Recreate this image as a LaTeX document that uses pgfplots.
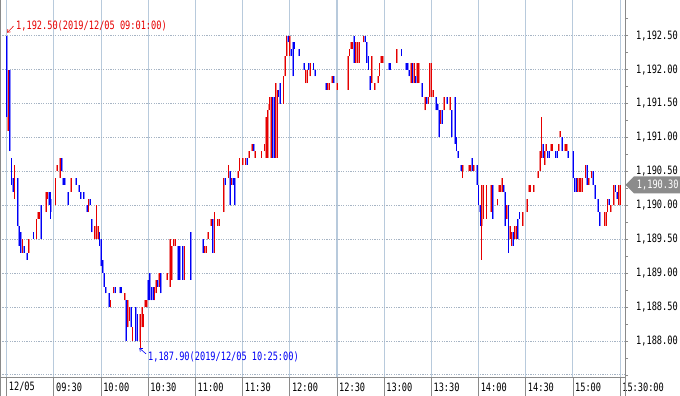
\documentclass[border=0pt]{standalone}
\usepackage{pgfplots}
\pgfplotsset{compat=1.18}
\usepackage{pgfplotstable}
\usepackage{fontspec}
\setmainfont{Liberation Sans}
\newfontfamily\gul[FakeStretch=0.75]{DejaVu Sans Mono}
\newcommand\gf{\gul\fontsize{11.5bp}{13bp}\selectfont}
\usetikzlibrary{shapes.symbols,arrows.meta}
\definecolor{dred}{HTML}{E60000}
\definecolor{lred}{HTML}{F08888}
\definecolor{dblue}{HTML}{0000F5}
\definecolor{lblue}{HTML}{8888FF}
\definecolor{gridblue}{HTML}{B8CADC}
\definecolor{axgray}{HTML}{8A8A8A}
\definecolor{dotgray}{HTML}{A6B4C4}
\definecolor{tagray}{HTML}{8C8C8C}
% vertical stroke mark, length given per point by \rng (price units), 67.84bp per unit
\pgfdeclareplotmark{vbar}{%
  \pgfpathmoveto{\pgfqpoint{0pt}{0pt}}%
  \pgfpathlineto{\pgfpoint{0pt}{\rng*67.84bp}}%
  \pgfusepathqstroke}

% up (red) candles: minute, open, high, low, close
\pgfplotstableread{
m o h l c
1 1191.1 1192.0 1191.1 1192.0
5 1190.1 1190.6 1190.1 1190.6
10 1189.3 1189.5 1189.3 1189.5
14 1189.3 1189.5 1189.3 1189.5
19 1189.5 1189.8 1189.5 1189.8
20 1189.8 1189.9 1189.8 1189.9
21 1189.8 1189.9 1189.8 1189.9
25 1189.9 1190.2 1189.9 1190.2
26 1190.1 1190.2 1190.1 1190.2
31 1190.0 1190.4 1190.0 1190.4
32 1190.5 1190.6 1190.5 1190.6
34 1190.4 1190.7 1190.4 1190.7
41 1190.2 1190.4 1190.2 1190.4
52 1189.9 1190.1 1189.9 1190.1
56 1189.5 1189.7 1189.5 1189.7
57 1189.5 1190.0 1189.5 1189.6
58 1189.5 1189.7 1189.5 1189.7
66 1188.5 1188.6 1188.5 1188.6
68 1188.7 1188.8 1188.7 1188.8
75 1188.6 1188.7 1188.6 1188.7
77 1188.2 1188.6 1188.2 1188.6
78 1188.3 1188.5 1188.3 1188.5
80 1188.0 1188.2 1188.0 1188.2
85 1188.0 1188.4 1187.9 1188.4
86 1188.2 1188.5 1188.2 1188.5
87 1188.2 1188.4 1188.2 1188.4
88 1188.5 1188.6 1188.5 1188.6
89 1188.5 1188.6 1188.5 1188.6
94 1188.6 1188.8 1188.6 1188.8
95 1188.7 1188.9 1188.7 1188.9
97 1188.8 1189.0 1188.8 1189.0
102 1188.9 1189.0 1188.9 1189.0
104 1188.8 1189.5 1188.8 1189.5
105 1188.9 1189.4 1188.9 1189.4
106 1189.4 1189.5 1189.4 1189.5
107 1189.4 1189.5 1189.4 1189.5
113 1188.9 1189.4 1188.9 1189.4
126 1189.3 1189.4 1189.3 1189.4
127 1189.3 1189.4 1189.3 1189.4
128 1189.5 1189.6 1189.5 1189.6
130 1189.7 1189.8 1189.7 1189.8
132 1189.3 1189.9 1189.3 1189.8
134 1189.7 1189.8 1189.7 1189.8
135 1189.7 1189.8 1189.7 1189.8
138 1189.9 1190.4 1189.9 1190.4
141 1190.4 1190.6 1190.4 1190.6
143 1190.3 1190.4 1190.3 1190.4
147 1190.4 1190.5 1190.4 1190.5
148 1190.5 1190.7 1190.5 1190.7
150 1190.6 1190.7 1190.6 1190.7
152 1190.6 1190.7 1190.6 1190.7
154 1190.7 1190.8 1190.7 1190.8
156 1190.8 1190.9 1190.8 1190.9
158 1190.7 1190.8 1190.7 1190.8
162 1190.7 1190.8 1190.7 1190.8
164 1190.8 1190.9 1190.8 1190.9
165 1190.7 1191.3 1190.7 1191.3
166 1190.7 1191.4 1190.7 1191.4
167 1191.4 1191.6 1191.4 1191.5
168 1190.7 1191.6 1190.7 1191.6
171 1190.7 1191.8 1190.7 1191.8
172 1190.7 1191.7 1190.7 1191.7
176 1191.5 1191.9 1191.5 1191.9
177 1191.9 1192.2 1191.9 1192.2
178 1192.2 1192.5 1192.2 1192.5
180 1192.2 1192.5 1192.2 1192.5
190 1191.8 1192.0 1191.8 1192.0
191 1191.8 1192.0 1191.8 1192.0
193 1191.9 1192.1 1191.9 1192.1
204 1191.7 1191.8 1191.7 1191.8
205 1191.7 1191.8 1191.7 1191.8
207 1191.8 1191.9 1191.8 1191.9
210 1191.7 1191.8 1191.7 1191.8
217 1191.7 1192.2 1191.7 1192.2
218 1192.2 1192.3 1192.2 1192.3
219 1192.3 1192.4 1192.3 1192.4
220 1192.3 1192.4 1192.3 1192.4
222 1192.1 1192.4 1192.1 1192.4
223 1192.1 1192.4 1192.1 1192.4
224 1192.1 1192.4 1192.1 1192.4
227 1192.4 1192.5 1192.4 1192.5
232 1191.8 1192.2 1191.8 1192.2
234 1191.7 1191.8 1191.7 1191.8
236 1191.8 1191.9 1191.8 1191.9
237 1191.9 1192.1 1191.9 1192.1
238 1192.1 1192.2 1192.1 1192.2
239 1192.1 1192.2 1192.1 1192.2
248 1192.1 1192.3 1192.1 1192.3
257 1191.8 1192.1 1191.8 1192.1
259 1191.8 1192.1 1191.8 1192.1
261 1191.8 1192.1 1191.8 1192.1
262 1191.8 1192.1 1191.8 1192.1
266 1191.4 1191.6 1191.4 1191.6
268 1191.5 1191.6 1191.5 1191.6
269 1191.6 1192.1 1191.6 1192.1
270 1191.6 1192.1 1191.6 1192.0
271 1191.6 1191.7 1191.6 1191.7
276 1191.2 1191.4 1191.2 1191.4
278 1191.4 1191.6 1191.4 1191.6
282 1191.4 1191.6 1191.4 1191.6
290 1190.5 1190.6 1190.4 1190.6
294 1190.5 1190.6 1190.5 1190.6
295 1190.5 1190.6 1190.5 1190.6
297 1190.5 1190.6 1190.5 1190.6
302 1189.7 1190.3 1189.2 1190.3
303 1189.8 1190.3 1189.8 1190.3
305 1189.8 1190.3 1189.8 1190.3
308 1189.9 1190.3 1189.9 1190.3
312 1190.0 1190.1 1190.0 1190.1
313 1190.2 1190.3 1190.2 1190.3
314 1190.2 1190.3 1190.2 1190.3
315 1190.2 1190.4 1190.2 1190.4
318 1189.8 1190.0 1189.8 1190.0
320 1189.5 1189.7 1189.5 1189.7
321 1189.4 1189.6 1189.4 1189.6
323 1189.5 1189.7 1189.5 1189.7
324 1189.5 1189.7 1189.5 1189.7
328 1189.7 1189.9 1189.7 1189.9
331 1189.9 1190.1 1189.9 1190.1
332 1190.2 1190.3 1190.2 1190.3
333 1190.2 1190.3 1190.2 1190.3
335 1190.2 1190.3 1190.2 1190.3
338 1190.4 1190.5 1190.4 1190.5
339 1190.5 1190.8 1190.5 1190.8
340 1190.7 1191.3 1190.7 1190.9
342 1190.6 1190.8 1190.6 1190.8
343 1190.8 1190.9 1190.8 1190.9
346 1190.8 1190.9 1190.8 1190.9
347 1190.8 1190.9 1190.8 1190.9
351 1190.8 1190.9 1190.8 1190.9
352 1191.0 1191.1 1191.0 1191.1
355 1190.8 1190.9 1190.8 1190.9
356 1190.8 1190.9 1190.8 1190.9
363 1190.2 1190.4 1190.2 1190.4
364 1190.2 1190.4 1190.2 1190.4
365 1190.2 1190.4 1190.2 1190.4
366 1190.2 1190.4 1190.2 1190.4
368 1190.4 1190.6 1190.4 1190.6
370 1190.3 1190.4 1190.3 1190.4
372 1190.4 1190.5 1190.4 1190.5
380 1189.7 1189.9 1189.7 1189.9
381 1189.7 1189.9 1189.7 1189.9
382 1189.9 1190.1 1189.9 1190.1
384 1189.9 1190.0 1189.9 1190.0
386 1190.0 1190.3 1190.0 1190.3
389 1190.0 1190.3 1190.0 1190.3
390 1190.0 1190.3 1190.0 1190.3
}\upT

% down (blue) candles: minute, open, high, low, close
\pgfplotstableread{
m o h l c
0 1192.5 1192.5 1191.3 1191.3
2 1192.0 1192.0 1190.8 1190.8
3 1190.7 1190.7 1190.3 1190.3
4 1190.4 1190.4 1190.2 1190.2
7 1190.4 1190.4 1189.7 1189.7
8 1189.7 1189.7 1189.4 1189.4
9 1189.6 1189.6 1189.3 1189.3
11 1189.4 1189.4 1189.3 1189.3
13 1189.3 1189.3 1189.2 1189.2
17 1189.6 1189.6 1189.5 1189.5
22 1190.0 1190.0 1189.5 1189.5
27 1190.2 1190.2 1190.0 1190.0
28 1190.1 1190.2 1189.8 1189.9
35 1190.7 1190.7 1190.5 1190.5
36 1190.4 1190.4 1190.3 1190.3
37 1190.4 1190.4 1190.3 1190.3
39 1190.2 1190.2 1190.0 1190.0
44 1190.4 1190.4 1190.3 1190.3
46 1190.3 1190.3 1190.2 1190.2
47 1190.2 1190.2 1190.1 1190.1
49 1190.2 1190.2 1190.1 1190.1
51 1190.0 1190.0 1189.9 1189.9
53 1190.1 1190.1 1190.0 1190.0
54 1189.8 1189.8 1189.6 1189.6
59 1189.6 1189.6 1189.4 1189.4
60 1189.5 1189.5 1189.1 1189.1
61 1189.2 1189.2 1189.0 1189.0
62 1189.0 1189.0 1188.8 1188.8
63 1188.8 1188.8 1188.7 1188.7
65 1188.7 1188.7 1188.5 1188.5
69 1188.8 1188.8 1188.7 1188.7
72 1188.8 1188.8 1188.7 1188.7
73 1188.8 1188.8 1188.7 1188.7
76 1188.6 1188.6 1188.0 1188.0
79 1188.5 1188.5 1188.2 1188.2
82 1188.5 1188.5 1188.0 1188.0
83 1188.4 1188.4 1188.0 1188.0
90 1188.9 1188.9 1188.6 1188.6
91 1189.0 1189.0 1188.6 1188.6
92 1188.8 1188.8 1188.6 1188.6
93 1188.8 1188.8 1188.6 1188.6
96 1188.9 1188.9 1188.8 1188.8
98 1189.0 1189.0 1188.7 1188.7
109 1189.4 1189.4 1188.9 1188.9
110 1189.4 1189.4 1188.9 1188.9
112 1189.4 1189.4 1188.9 1188.9
117 1189.6 1189.6 1188.9 1188.9
125 1189.5 1189.5 1189.3 1189.3
131 1189.8 1189.8 1189.3 1189.3
139 1190.4 1190.4 1190.3 1190.3
142 1190.5 1190.5 1190.0 1190.0
144 1190.4 1190.4 1190.3 1190.3
145 1190.4 1190.4 1190.0 1190.0
153 1190.7 1190.7 1190.6 1190.6
157 1190.9 1190.9 1190.8 1190.8
169 1191.6 1191.6 1190.7 1190.7
170 1191.6 1191.6 1190.7 1190.7
173 1191.7 1191.7 1191.6 1191.6
174 1191.8 1191.8 1191.5 1191.5
179 1192.5 1192.5 1192.4 1192.4
181 1192.3 1192.3 1192.2 1192.2
182 1192.4 1192.4 1191.9 1191.9
183 1192.4 1192.4 1192.3 1192.3
186 1192.3 1192.3 1192.2 1192.2
189 1192.1 1192.1 1192.0 1192.0
192 1192.1 1192.1 1192.0 1192.0
195 1192.1 1192.1 1192.0 1192.0
196 1192.0 1192.0 1191.9 1191.9
203 1191.8 1191.8 1191.7 1191.7
208 1191.9 1191.9 1191.8 1191.8
221 1192.5 1192.5 1192.1 1192.1
228 1192.5 1192.5 1192.4 1192.4
229 1192.4 1192.4 1192.1 1192.1
230 1192.2 1192.2 1192.0 1192.0
231 1191.9 1191.9 1191.7 1191.7
243 1192.1 1192.1 1192.0 1192.0
244 1192.1 1192.1 1192.0 1192.0
251 1192.3 1192.3 1192.2 1192.2
254 1192.1 1192.1 1192.0 1192.0
255 1192.1 1192.1 1192.0 1192.0
256 1192.0 1192.0 1191.9 1191.9
258 1192.1 1192.1 1191.8 1191.8
260 1191.9 1191.9 1191.8 1191.8
264 1191.8 1191.8 1191.6 1191.6
267 1191.6 1191.6 1191.5 1191.5
273 1191.6 1191.6 1191.4 1191.4
274 1191.5 1191.5 1191.4 1191.4
275 1191.4 1191.4 1191.0 1191.0
277 1191.4 1191.4 1191.2 1191.2
280 1191.6 1191.6 1191.5 1191.5
283 1191.4 1191.4 1191.0 1191.0
285 1191.6 1191.6 1190.9 1190.9
286 1191.0 1191.0 1190.8 1190.8
287 1190.8 1190.8 1190.7 1190.7
289 1190.6 1190.6 1190.5 1190.5
296 1190.7 1190.7 1190.5 1190.5
299 1190.6 1190.6 1190.3 1190.3
300 1190.3 1190.3 1190.0 1190.0
301 1190.0 1190.0 1189.7 1189.9
309 1190.3 1190.3 1189.8 1189.8
316 1190.3 1190.3 1190.2 1190.2
317 1190.2 1190.2 1189.7 1189.7
319 1190.0 1190.0 1189.3 1189.3
322 1189.6 1189.6 1189.4 1189.4
325 1189.8 1189.8 1189.5 1189.5
326 1189.9 1189.9 1189.8 1189.8
341 1190.9 1190.9 1190.7 1190.7
344 1190.8 1190.8 1190.7 1190.7
345 1190.8 1190.8 1190.7 1190.7
349 1190.8 1190.8 1190.7 1190.7
350 1190.8 1190.8 1190.7 1190.7
353 1191.0 1191.0 1190.8 1190.8
357 1190.8 1190.8 1190.7 1190.7
360 1190.8 1190.8 1190.4 1190.4
361 1190.4 1190.4 1190.2 1190.2
362 1190.4 1190.4 1190.2 1190.2
369 1190.6 1190.6 1190.3 1190.3
373 1190.5 1190.5 1190.3 1190.3
374 1190.3 1190.3 1190.1 1190.1
376 1190.1 1190.1 1189.9 1189.9
377 1189.9 1189.9 1189.7 1189.7
383 1190.1 1190.1 1190.0 1190.0
387 1190.3 1190.3 1190.2 1190.2
388 1190.2 1190.2 1190.1 1190.1
}\dnT

\begin{document}
\begin{tikzpicture}
\useasboundingbox (0,0) rectangle (680bp,396bp);
\begin{axis}[
  at={(0bp,19bp)}, anchor=south west,
  scale only axis, width=625bp, height=377bp,
  xmin=-4.26, xmax=393.1, ymin=1187.469, ymax=1193.026,
  axis x line=bottom, axis y line=right,
  axis line style={-, draw=axgray, line width=0.8bp},
  clip=false,
  tick align=outside,
  major tick length=3bp, minor tick length=3bp,
  xtick={0,30,60,90,120,150,180,210,240,270,300,330,360,390},
  xticklabels={12/05,09:30,10:00,10:30,11:00,11:30,12:00,12:30,13:00,13:30,14:00,14:30,15:00,15:30:00},
  xtick style={draw=none},
  ytick={1187.5,1188,1188.5,1189,1189.5,1190,1190.5,1191,1191.5,1192,1192.5},
  yticklabels={{},{1,188.00},{1,188.50},{1,189.00},{1,189.50},{1,190.00},{1,190.50},{1,191.00},{1,191.50},{1,192.00},{1,192.50}},
  minor ytick={1187.75,1188.25,1188.75,1189.25,1189.75,1190.25,1190.75,1191.25,1191.75,1192.25,1192.75},
  ytick style={draw=axgray, line width=0.7bp},
  grid=major,
  x grid style={draw=gridblue, line width=1.1bp},
  y grid style={draw=dotgray, line width=0.8bp, dash pattern=on 1.2bp off 1.2bp},
  xticklabel style={font=\gf, anchor=west, inner sep=0pt, xshift=2bp, yshift=-7bp},
  yticklabel style={font=\gf, anchor=west, inner sep=0pt, xshift=8bp},
]
% candle bodies (open to close)
\addplot[only marks, mark=vbar, mark options={draw=lred, line width=1.8bp},
  visualization depends on={\thisrow{c}-\thisrow{o} \as \rng}]
  table[x=m, y=o] {\upT};
\addplot[only marks, mark=vbar, mark options={draw=lblue, line width=1.8bp},
  visualization depends on={\thisrow{o}-\thisrow{c} \as \rng}]
  table[x=m, y=c] {\dnT};
% wicks (low to high)
\addplot[only marks, mark=vbar, mark options={draw=dred, line width=0.8bp},
  visualization depends on={\thisrow{h}-\thisrow{l} \as \rng}]
  table[x=m, y=l] {\upT};
\addplot[only marks, mark=vbar, mark options={draw=dblue, line width=0.8bp},
  visualization depends on={\thisrow{h}-\thisrow{l} \as \rng}]
  table[x=m, y=l] {\dnT};

% separators in the time strip
\pgfplotsinvokeforeach{0,30,60,90,120,150,180,210,240,270,300,330,360,390}{
  \draw[axgray, line width=0.8bp] (axis cs:#1,1187.469) -- (axis cs:#1,1187.189);
}
\draw[axgray, line width=1bp] (axis cs:-4.26,1193.026) -- (axis cs:-4.26,1187.189);
\draw[axgray, line width=0.8bp] (axis cs:393.1,1187.469) -- (axis cs:393.1,1187.189);

% annotations of high and low
\draw[dred, line width=0.6bp, -{Straight Barb[length=2.5bp,width=4bp]}] (axis cs:4.3,1192.64) -- (axis cs:0.3,1192.545);
\node[anchor=west, inner sep=0pt, text=dred, font=\gf] at (axis cs:5.9,1192.65) {1,192.50(2019/12/05 09:01:00)};
\draw[dblue, line width=0.6bp, -{Straight Barb[length=2.5bp,width=4bp]}] (axis cs:88.6,1187.81) -- (axis cs:84.3,1187.895);
\node[anchor=west, inner sep=0pt, text=dblue, font=\gf] at (axis cs:89.8,1187.77) {1,187.90(2019/12/05 10:25:00)};

% last price tag
\node[signal, signal to=west, fill=tagray, text=white, font=\gf, minimum height=17bp, inner xsep=3bp, inner ysep=1bp, anchor=west] at (axis cs:393.2,1190.30) {1,190.30};
\end{axis}
\end{tikzpicture}
\end{document}
